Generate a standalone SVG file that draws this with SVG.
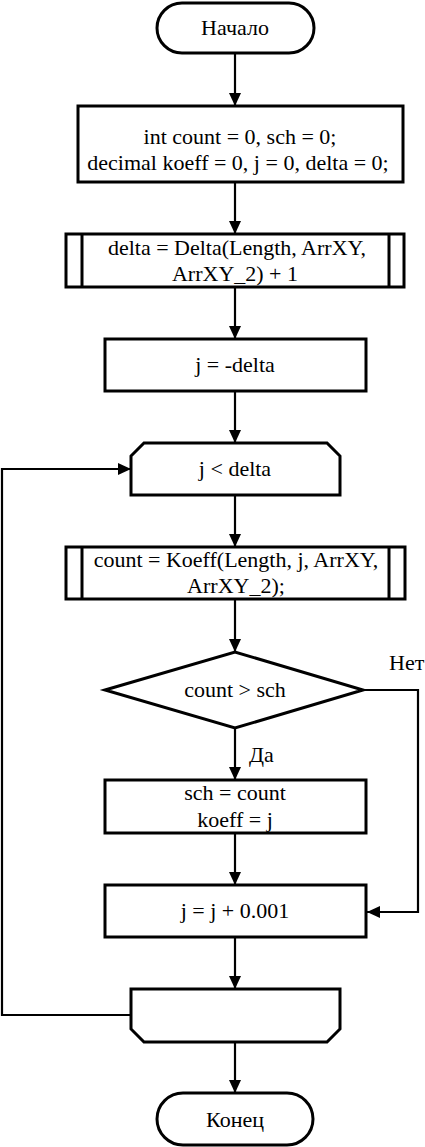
<svg xmlns="http://www.w3.org/2000/svg" width="425" height="1147" viewBox="0 0 425 1147">
<style>
.s{fill:#fff;stroke:#000;stroke-width:3}
text{font-family:'Liberation Serif','Times New Roman',serif;font-size:22px;fill:#000}
.t{text-anchor:middle}
.c{fill:none;stroke:#000;stroke-width:2.2}
</style>
<defs>
<marker id="a" markerUnits="userSpaceOnUse" markerWidth="13" markerHeight="12" refX="13" refY="6" orient="auto">
<path d="M0,0 L13,6 L0,12 z" fill="#000"/>
</marker>
</defs>
<rect width="425" height="1147" fill="#fff"/>
<g id="connectors">
<path class="c" d="M235,53 V106" marker-end="url(#a)"/>
<path class="c" d="M235,182 V234" marker-end="url(#a)"/>
<path class="c" d="M235,287 V339" marker-end="url(#a)"/>
<path class="c" d="M235,391 V443" marker-end="url(#a)"/>
<path class="c" d="M235,495 V547" marker-end="url(#a)"/>
<path class="c" d="M235,599 V652" marker-end="url(#a)"/>
<path class="c" d="M235,728 V780" marker-end="url(#a)"/>
<path class="c" d="M363,690 H418 V912 H367" marker-end="url(#a)"/>
<path class="c" d="M235,833 V885" marker-end="url(#a)"/>
<path class="c" d="M235,937 V989" marker-end="url(#a)"/>
<path class="c" d="M131,1015 H2 V469 H131" marker-end="url(#a)"/>
<path class="c" d="M235,1042 V1093" marker-end="url(#a)"/>
<text x="389" y="670">Нет</text>
<text x="249" y="762">Да</text>
</g>
<g id="start">
<rect class="s" x="157" y="3" width="157" height="50" rx="25"/>
<text class="t" x="235" y="35">Начало</text>
</g>
<g id="init">
<rect class="s" x="78" y="106" width="325" height="76"/>
<text class="t" x="240" y="144">int count = 0, sch = 0;</text>
<text class="t" x="238" y="170">decimal koeff = 0, j = 0, delta = 0;</text>
</g>
<g id="delta">
<rect class="s" x="66" y="234" width="338" height="53"/>
<line class="s" x1="82" y1="234" x2="82" y2="287"/>
<line class="s" x1="389" y1="234" x2="389" y2="287"/>
<text class="t" x="237" y="255">delta = Delta(Length, ArrXY,</text>
<text class="t" x="235" y="281">ArrXY_2) + 1</text>
</g>
<g id="jinit">
<rect class="s" x="105" y="339" width="261" height="52"/>
<text class="t" x="235" y="372">j = -delta</text>
</g>
<g id="loopstart">
<polygon class="s" points="131,456 144,443 327,443 340,456 340,495 131,495"/>
<text class="t" x="235" y="476">j &lt; delta</text>
</g>
<g id="koeff">
<rect class="s" x="66" y="547" width="339" height="52"/>
<line class="s" x1="82" y1="547" x2="82" y2="599"/>
<line class="s" x1="389" y1="547" x2="389" y2="599"/>
<text class="t" x="236" y="567">count = Koeff(Length, j, ArrXY,</text>
<text class="t" x="236" y="593">ArrXY_2);</text>
</g>
<g id="decision">
<polygon class="s" points="105,690 235,652 363,690 235,728"/>
<text class="t" x="235" y="697">count &gt; sch</text>
</g>
<g id="assign">
<rect class="s" x="105" y="780" width="261" height="53"/>
<text class="t" x="235" y="800">sch = count</text>
<text class="t" x="235" y="827">koeff = j</text>
</g>
<g id="inc">
<rect class="s" x="105" y="885" width="261" height="52"/>
<text class="t" x="235" y="918">j = j + 0.001</text>
</g>
<g id="loopend">
<polygon class="s" points="131,989 340,989 340,1029 327,1042 144,1042 131,1029"/>
</g>
<g id="end">
<rect class="s" x="157" y="1093" width="156" height="52" rx="26"/>
<text class="t" x="235" y="1127">Конец</text>
</g>
</svg>
